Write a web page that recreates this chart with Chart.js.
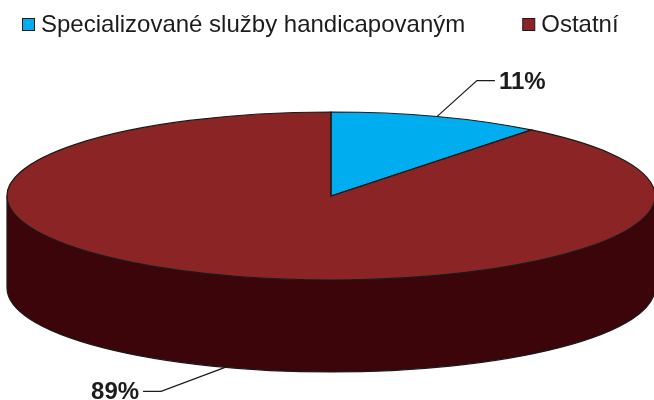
<!DOCTYPE html>
<html>
<head>
<meta charset="utf-8">
<script src="https://cdn.jsdelivr.net/npm/chart.js@4/dist/chart.umd.min.js"></script>
<style>
html,body{margin:0;padding:0;background:#fff;overflow:hidden}
#wrap{width:654px;height:400px;position:relative}
canvas{display:block}
</style>
</head>
<body>
<div id="wrap"><canvas id="c" width="654" height="400"></canvas></div>
<script>
// ---- data ----
const categories = ['Specializované služby handicapovaným', 'Ostatní'];
const shares = [10.6, 89.4];

// ---- styles ----
const topColors = ['#00AEEF', '#8B2525'];
const sideColors = ['#00658C', '#3C0509'];
const outlineColor = '#1a1a1a';
const textColor = '#1c1c1c';
const FONT = '"Liberation Sans", Arial, sans-serif';
const G = { cx: 331, cy: 196, rx: 324, ry: 84, depth: 92 };
const labelStyle = [
  { dx: 40, dy: -36, run: 18, gap: 4, base: 8 },
  { dx: -64, dy: 24, run: -18, gap: 4, base: 8 }
];
const legendStyle = { x: 22, boxTop: 18, box: 12, boxGap: 7, itemGap: 57, baseline: 32 };

const pie3d = {
  id: 'pie3d',
  beforeDatasetsDraw(chart) {
    const ctx = chart.ctx;
    const arcs = chart.getDatasetMeta(0).data;
    // side walls (front half only)
    arcs.forEach((a, i) => {
      for (let k = -1; k <= 1; k++) {
        const lo = Math.max(a.startAngle, 2 * Math.PI * k);
        const hi = Math.min(a.endAngle, Math.PI + 2 * Math.PI * k);
        if (hi > lo) {
          ctx.beginPath();
          ctx.ellipse(G.cx, G.cy, G.rx, G.ry, 0, lo, hi, false);
          ctx.ellipse(G.cx, G.cy + G.depth, G.rx, G.ry, 0, hi, lo, true);
          ctx.closePath();
          ctx.fillStyle = sideColors[i];
          ctx.fill();
          ctx.lineWidth = 1.2;
          ctx.strokeStyle = outlineColor;
          ctx.stroke();
        }
      }
    });
    // squash the library's circular pie into the top ellipse
    const a0 = arcs[0];
    ctx.save();
    ctx.translate(G.cx, G.cy);
    ctx.scale(G.rx / a0.outerRadius, G.ry / a0.outerRadius);
    ctx.translate(-a0.x, -a0.y);
  },
  afterDatasetsDraw(chart) {
    const ctx = chart.ctx;
    ctx.restore();
    const arcs = chart.getDatasetMeta(0).data;
    const vals = chart.data.datasets[0].data;
    const total = vals.reduce((s, v) => s + v, 0);
    // top outlines
    arcs.forEach(a => {
      ctx.beginPath();
      ctx.moveTo(G.cx, G.cy);
      ctx.ellipse(G.cx, G.cy, G.rx, G.ry, 0, a.startAngle, a.endAngle, false);
      ctx.closePath();
      ctx.lineWidth = 1.2;
      ctx.strokeStyle = outlineColor;
      ctx.stroke();
    });
    // percentage labels with leader lines
    ctx.font = 'bold 24px ' + FONT;
    ctx.fillStyle = textColor;
    arcs.forEach((a, i) => {
      const m = (a.startAngle + a.endAngle) / 2;
      const front = Math.sin(m) > 0;
      const px = G.cx + G.rx * Math.cos(m);
      const py = G.cy + G.ry * Math.sin(m) + (front ? G.depth : 0);
      const st = labelStyle[i];
      const ex = px + st.dx, ey = py + st.dy;
      const hx = ex + st.run;
      ctx.beginPath();
      ctx.moveTo(px, py);
      ctx.lineTo(ex, ey);
      ctx.lineTo(hx, ey);
      ctx.strokeStyle = outlineColor;
      ctx.lineWidth = 1.2;
      ctx.stroke();
      const txt = Math.round(vals[i] / total * 100) + '%';
      ctx.textBaseline = 'alphabetic';
      if (st.run > 0) {
        ctx.textAlign = 'left';
        ctx.fillText(txt, hx + st.gap, ey + st.base);
      } else {
        ctx.textAlign = 'right';
        ctx.fillText(txt, hx - st.gap, ey + st.base);
      }
    });
    // legend
    const L = legendStyle;
    ctx.font = '24px ' + FONT;
    ctx.textAlign = 'left';
    ctx.textBaseline = 'alphabetic';
    let x = L.x;
    chart.data.labels.forEach((lab, i) => {
      ctx.fillStyle = topColors[i];
      ctx.fillRect(x + 0.5, L.boxTop + 0.5, L.box, L.box);
      ctx.strokeStyle = outlineColor;
      ctx.lineWidth = 1;
      ctx.strokeRect(x + 0.5, L.boxTop + 0.5, L.box, L.box);
      ctx.fillStyle = textColor;
      ctx.fillText(lab, x + L.box + L.boxGap, L.baseline);
      x += L.box + L.boxGap + ctx.measureText(lab).width + L.itemGap;
    });
  }
};

new Chart(document.getElementById('c').getContext('2d'), {
  type: 'pie',
  data: {
    labels: categories,
    datasets: [{
      data: shares,
      backgroundColor: topColors,
      borderWidth: 0,
      clip: false
    }]
  },
  options: {
    responsive: false,
    animation: false,
    events: [],
    layout: { padding: 0 },
    plugins: { legend: { display: false }, tooltip: { enabled: false } }
  },
  plugins: [pie3d]
});
</script>
</body>
</html>
